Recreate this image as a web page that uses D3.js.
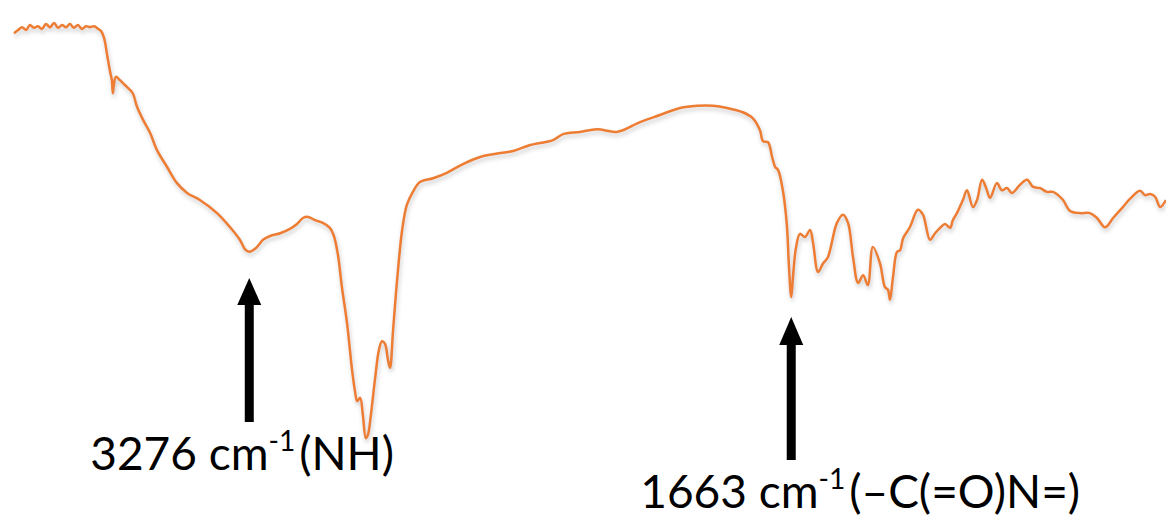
<!DOCTYPE html>
<html>
<head>
<meta charset="utf-8">
<script src="https://cdn.jsdelivr.net/npm/d3@7/dist/d3.min.js"></script>
<style>
  html, body { margin: 0; padding: 0; background: #fff; }
  svg { display: block; }
  .lbl { font-family: Lato, "Open Sans", sans-serif; fill: #000; }
</style>
</head>
<body>
<svg id="chart" width="1166" height="517"></svg>
<script>
// FTIR spectrum: wavenumber (cm-1) and transmittance (%)
const wavenumber = [3976,3964,3952,3940,3929,3917,3905,3893,3881,3869,
  3857,3845,3833,3821,3810,3798,3786,3774,3762,3750,
  3738,3726,3717,3708,3699,3690,3685,3682,3679,3673,
  3661,3646,3631,3622,3610,3592,3571,3551,3521,3491,
  3461,3423,3372,3333,3304,3289,3276,3256,3235,3214,
  3184,3155,3134,3116,3101,3080,3057,3036,3024,3012,
  3000,2985,2970,2961,2955,2946,2938,2929,2923,2914,
  2902,2890,2881,2872,2863,2857,2848,2836,2821,2807,
  2789,2768,2729,2688,2640,2589,2551,2491,2440,2372,
  2342,2292,2241,2182,2113,2054,1994,1943,1896,1854,
  1807,1777,1756,1747,1732,1720,1711,1702,1688,1676,
  1670,1663,1658,1649,1637,1622,1607,1598,1583,1568,
  1554,1527,1509,1494,1479,1464,1449,1435,1420,1399,
  1384,1375,1369,1360,1348,1339,1330,1310,1286,1271,
  1250,1235,1220,1205,1190,1182,1170,1152,1140,1122,
  1110,1095,1083,1071,1051,1036,1021,1006,982,961,
  943,923,902,884,869,854,833,804,774,753,
  729,705,676,655,625,610,595,580,565,548];

const transmittance = [93.9,94.5,95.0,94.5,95.4,94.9,95.2,94.7,95.6,95.0,
  95.8,94.9,95.4,95.0,95.6,94.9,95.4,94.7,95.2,95.0,
  95.2,94.7,94.3,93.0,89.9,86.8,85.3,82.9,84.4,85.9,
  85.3,84.4,83.5,82.8,80.4,78.0,75.6,72.5,69.4,66.4,
  64.6,63.3,60.9,58.3,56.0,54.3,53.8,54.5,56.0,56.7,
  57.2,58.0,58.9,60.0,60.2,59.6,59.1,58.2,56.7,53.2,
  47.2,40.7,32.1,28.1,26.4,27.0,23.9,19.6,20.2,23.9,
  30.3,35.8,37.4,36.9,33.9,32.5,39.4,48.6,57.8,62.4,
  64.8,66.6,67.3,68.3,69.9,71.2,71.7,72.3,73.4,74.3,
  75.4,75.8,76.3,75.8,77.6,78.9,80.2,80.6,80.6,80.2,
  79.4,78.3,76.1,74.1,73.9,71.2,69.4,68.8,65.1,58.7,
  51.4,45.5,49.0,54.5,57.1,56.5,57.8,55.4,50.1,51.7,
  52.8,59.1,60.6,59.1,52.8,48.1,49.5,47.7,54.7,51.7,
  47.3,46.8,45.0,49.2,53.8,54.1,56.3,58.3,61.5,60.6,
  56.0,57.2,58.2,58.9,58.2,59.6,60.9,63.3,65.1,62.0,
  63.3,67.0,65.5,63.7,66.4,65.1,65.5,64.6,66.1,67.0,
  65.7,65.5,64.8,64.8,64.2,63.3,61.3,60.9,60.9,60.0,
  58.3,60.0,62.0,63.5,65.0,64.2,64.4,63.9,62.0,63.3];

// Annotated bands
const peakWavenumbers = [3276, 1663];
const peakNumbers = ["3276", "1663"];
const peakGroups = ["(NH)", "(\u2013C(=O)N=)"];

const svg = d3.select("#chart");

const x = d3.scaleLinear().domain([4000, 500]).range([6, 1182]);
const y = d3.scaleLinear().domain([0, 100]).range([545, 0]);

const points = wavenumber.map((w, i) => ({ w, t: transmittance[i] }));

// soft shadow beneath the trace
const defs = svg.append("defs");
const f = defs.append("filter").attr("id", "shadow")
  .attr("x", "-5%").attr("y", "-10%").attr("width", "110%").attr("height", "130%");
f.append("feDropShadow")
  .attr("dx", 1).attr("dy", 3).attr("stdDeviation", 2)
  .attr("flood-color", "#888").attr("flood-opacity", 0.45);

const line = d3.line()
  .x(d => x(d.w))
  .y(d => y(d.t))
  .curve(d3.curveCatmullRom.alpha(0.5));

svg.append("path")
  .datum(points)
  .attr("d", line)
  .attr("fill", "none")
  .attr("stroke", "#ED7D31")
  .attr("stroke-width", 2.5)
  .attr("stroke-linejoin", "round")
  .attr("filter", "url(#shadow)");

// arrows and labels
const arrowSpec = [
  { tip: 278, headBase: 305, bottom: 422, baseline: 470, textOffset: -159 },
  { tip: 317, headBase: 345, bottom: 460, baseline: 508, textOffset: -151 }
];

peakWavenumbers.forEach((w, i) => {
  const cx = x(w);
  const a = arrowSpec[i];
  const g = svg.append("g");
  g.append("rect")
    .attr("x", cx - 4.5).attr("y", a.headBase - 1)
    .attr("width", 9).attr("height", a.bottom - a.headBase + 1)
    .attr("fill", "#000");
  g.append("path")
    .attr("d", `M${cx},${a.tip} L${cx + 12},${a.headBase} L${cx - 12},${a.headBase} Z`)
    .attr("fill", "#000");

  const t = g.append("text").attr("class", "lbl")
    .attr("x", cx + a.textOffset).attr("y", a.baseline)
    .attr("font-size", 46);
  t.append("tspan").text(peakNumbers[i] + " cm");
  t.append("tspan").attr("font-size", 28).attr("dy", -19).text("-1");
  t.append("tspan").attr("dy", 19).attr("dx", 4).text(peakGroups[i]);
});
</script>
</body>
</html>
